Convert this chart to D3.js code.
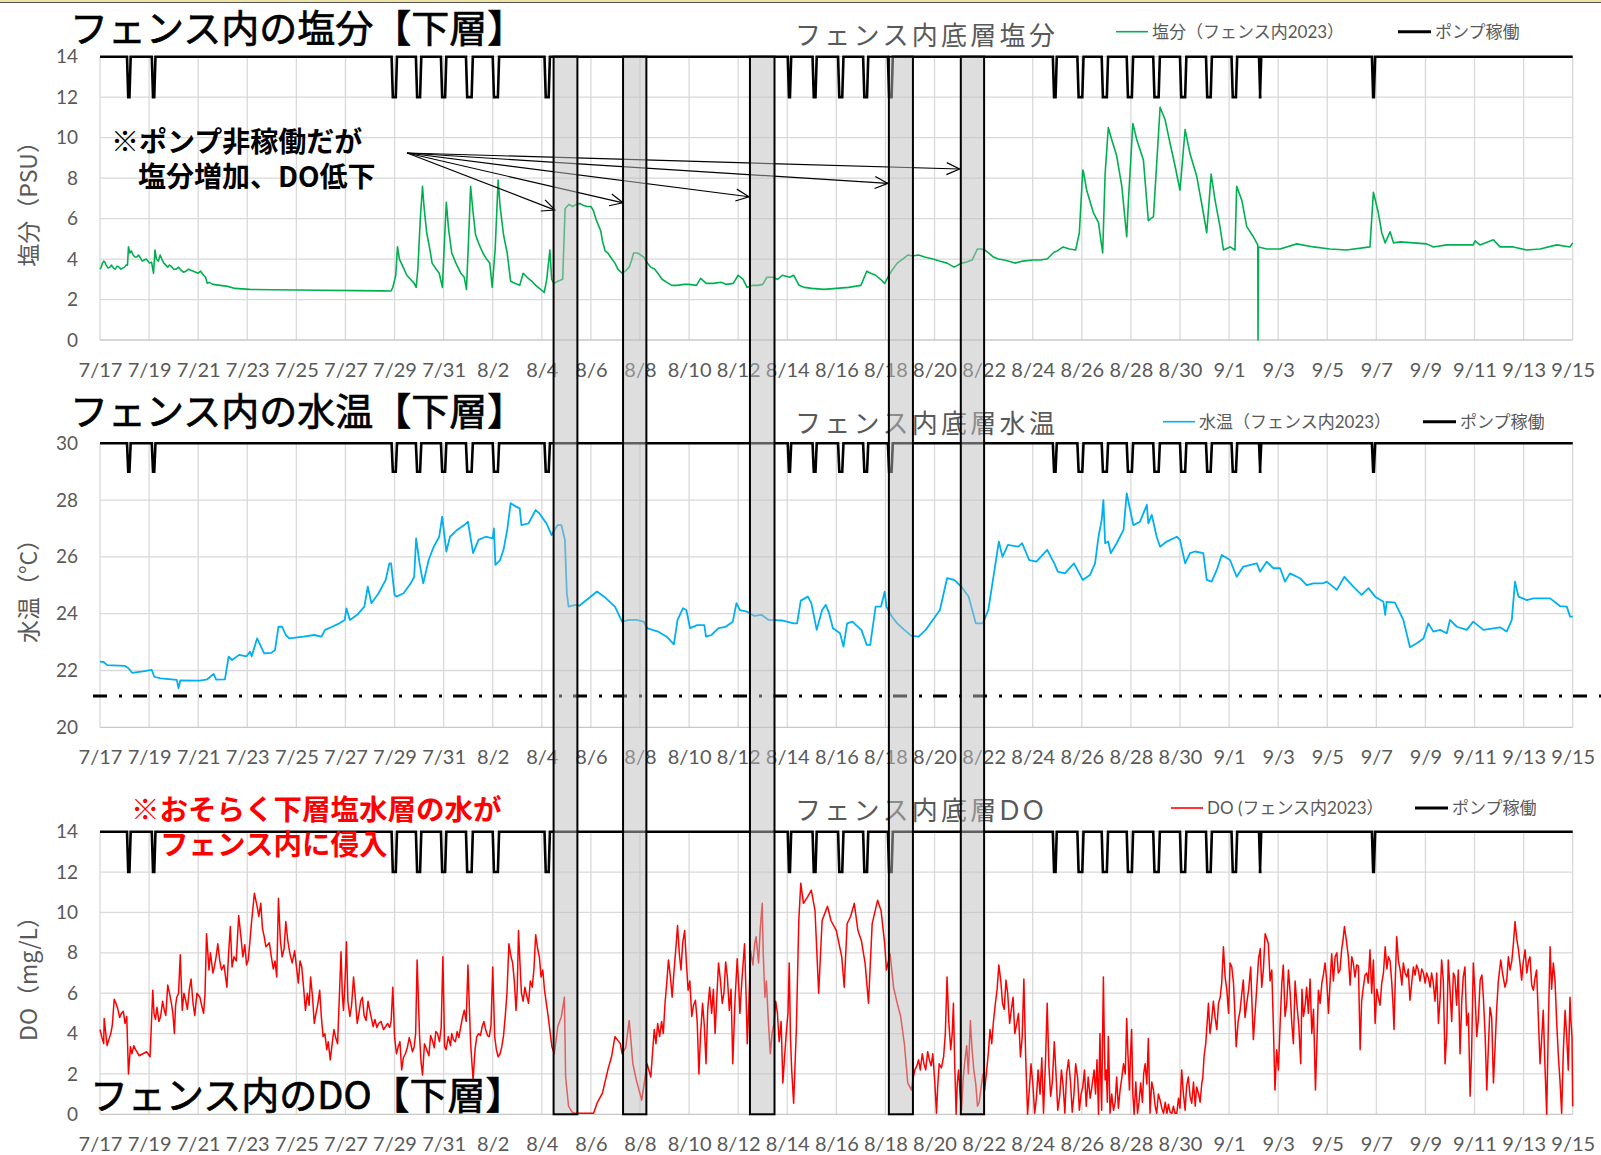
<!DOCTYPE html>
<html>
<head>
<meta charset="utf-8">
<script src="https://cdn.jsdelivr.net/npm/d3@7"></script>
<style>
  body { margin: 0; background: #fff; }
  svg { display: block; }
</style>
</head>
<body>
<svg id="chart" width="1601" height="1155"></svg>
<script>
// ---- data (day offsets from 2023-07-17 00:00) ----
const dateLabels = ['7/17','7/19','7/21','7/23','7/25','7/27','7/29','7/31','8/2','8/4','8/6','8/8','8/10','8/12','8/14','8/16','8/18','8/20','8/22','8/24','8/26','8/28','8/30','9/1','9/3','9/5','9/7','9/9','9/11','9/13','9/15'];
const salTicks = [0, 2, 4, 6, 8, 10, 12, 14];
const tempTicks = [20, 22, 24, 26, 28, 30];
const doTicks = [0, 2, 4, 6, 8, 10, 12, 14];

// salinity (PSU)
const salinity = [[0,3.5],[0.15,3.9],[0.25,3.7],[0.4,3.6],[0.55,3.55],[0.7,3.65],[0.85,3.5],[1.0,3.6],[1.12,3.7],[1.16,4.6],[1.22,4.3],[1.35,4.2],[1.5,4.1],[1.65,4.05],[1.8,3.95],[1.95,3.9],[2.1,3.85],[2.18,3.3],[2.24,4.45],[2.3,4.0],[2.45,4.2],[2.6,3.8],[2.76,3.6],[2.9,3.65],[3.1,3.5],[3.3,3.45],[3.5,3.4],[3.7,3.45],[3.9,3.35],[4.1,3.4],[4.22,3.2],[4.37,2.8],[4.6,2.75],[4.9,2.7],[5.2,2.65],[5.5,2.55],[6.1,2.5],[7.0,2.48],[8.0,2.47],[9.0,2.46],[10.5,2.44],[11.5,2.43],[11.86,2.42],[11.93,2.6],[12.05,3.2],[12.12,4.6],[12.2,4.0],[12.35,3.6],[12.5,3.2],[12.65,3.0],[12.8,2.8],[12.88,2.6],[12.95,3.5],[13.05,6.0],[13.14,7.6],[13.2,6.6],[13.31,5.3],[13.45,4.4],[13.53,3.8],[13.7,3.5],[13.82,3.3],[13.95,2.6],[14.02,4.5],[14.11,6.8],[14.2,5.5],[14.33,4.3],[14.5,3.8],[14.7,3.3],[14.84,3.1],[14.93,2.5],[15.0,4.5],[15.1,7.6],[15.2,6.3],[15.3,5.2],[15.42,4.8],[15.6,4.3],[15.75,4.0],[15.88,3.8],[15.98,2.6],[16.1,4.5],[16.22,7.9],[16.3,6.6],[16.44,5.2],[16.59,4.3],[16.73,2.9],[16.9,2.8],[17.1,2.7],[17.24,3.3],[17.4,3.1],[17.6,2.9],[17.75,2.7],[17.95,2.5],[18.1,2.35],[18.2,3.0],[18.33,4.45],[18.4,3.0],[18.5,2.8],[18.65,2.9],[18.85,3.0],[18.95,6.5],[19.1,6.7],[19.4,6.7],[19.7,6.65],[20.0,6.6],[20.1,6.4],[20.33,5.6],[20.47,4.9],[20.69,4.3],[20.98,3.8],[21.27,3.3],[21.56,3.6],[21.74,4.3],[22.15,4.1],[22.44,3.6],[22.73,3.3],[23.16,2.8],[23.5,2.7],[24.0,2.75],[24.47,3.05],[25.0,2.8],[25.5,2.75],[26.0,3.2],[26.36,2.6],[26.8,2.7],[27.17,3.1],[27.8,3.2],[28.26,3.2],[28.48,2.7],[29.0,2.55],[30.0,2.55],[31.0,2.7],[31.24,3.4],[31.6,3.2],[31.97,2.8],[32.19,3.3],[32.48,3.8],[32.91,4.2],[33.35,4.2],[33.93,4.0],[34.51,3.8],[34.8,3.6],[35.1,3.8],[35.53,3.95],[35.75,4.5],[36.04,4.45],[36.4,4.1],[36.84,3.95],[37.27,3.8],[38.0,3.95],[38.59,4.0],[38.88,4.35],[39.24,4.6],[39.75,4.45],[39.9,5.3],[40.04,8.4],[40.07,8.3],[40.2,7.4],[40.47,6.3],[40.68,5.8],[40.85,4.3],[40.95,8.2],[41.08,10.5],[41.22,9.9],[41.42,9.1],[41.63,7.6],[41.83,5.1],[41.9,6.9],[42.08,10.7],[42.24,9.9],[42.51,8.9],[42.71,5.9],[42.92,6.1],[43.19,11.5],[43.39,10.9],[43.6,9.7],[43.8,8.6],[44.0,7.4],[44.21,10.4],[44.41,9.2],[44.68,8.1],[44.95,6.3],[45.09,5.3],[45.27,8.2],[45.43,6.9],[45.63,5.6],[45.77,4.45],[46.04,4.6],[46.24,4.45],[46.31,7.6],[46.52,6.9],[46.72,5.6],[46.99,5.1],[47.17,4.7],[47.18,0],[47.2,4.6],[47.53,4.5],[48.08,4.5],[48.76,4.75],[49.44,4.6],[50.11,4.5],[50.79,4.45],[51.74,4.6],[51.88,7.3],[52.08,6.3],[52.22,5.3],[52.36,4.8],[52.56,5.35],[52.7,4.8],[52.97,4.85],[53.51,4.8],[54.05,4.75],[54.33,4.6],[54.87,4.7],[55.95,4.7],[56.02,4.9],[56.22,4.7],[56.77,4.95],[57.04,4.6],[57.58,4.6],[58.12,4.45],[58.67,4.5],[59.35,4.7],[59.89,4.6],[60.0,4.8]];
// extra readings picked off the noisier stretches of the salinity trace
const salinityDetail = [[0.05,3.6],[0.1,3.8],[0.2,3.85],[0.33,3.55],[0.47,3.7],[0.62,3.5],[0.78,3.6],[0.92,3.55],[1.06,3.7],[1.28,4.4],[1.42,4.1],[1.57,4.2],[1.72,3.9],[1.88,4.0],[2.02,3.8],[2.38,3.9],[2.52,4.0],[2.68,3.7],[2.83,3.7],[3.0,3.5],[3.2,3.6],[3.4,3.35],[3.6,3.5],[3.8,3.4],[4.0,3.3],[4.3,3.1],[4.45,2.85],[19.25,6.6],[19.55,6.75],[19.85,6.6],[20.2,6.0],[20.4,5.4],[20.58,4.4],[20.8,4.1],[21.1,3.5],[21.4,3.4],[21.65,3.9],[21.9,4.3],[22.3,3.8],[22.6,3.5],[22.9,3.0],[23.3,2.7],[23.8,2.75],[24.3,2.7],[24.7,2.8],[25.3,2.85],[25.8,2.8],[26.2,3.0],[26.6,2.7],[27.0,2.75],[27.4,3.1],[27.6,3.0],[28.1,3.1],[28.7,2.6],[29.5,2.5],[30.5,2.6],[31.4,3.3],[31.8,3.0],[32.3,3.5],[32.7,4.0],[33.1,4.15],[33.6,4.1],[34.2,3.9],[34.95,3.7],[35.3,3.85],[35.9,4.5],[36.2,4.3],[36.6,4.0],[37.0,3.9],[37.6,3.9],[38.3,3.95],[38.75,4.2],[39.0,4.4],[39.5,4.5]];

// water temperature (°C)
const waterTemp = [[0,22.31],[0.15,22.3],[0.29,22.19],[1.02,22.16],[1.16,22.08],[1.31,21.92],[1.75,21.97],[2.11,22.02],[2.21,21.78],[2.47,21.72],[3.13,21.67],[3.2,21.37],[3.27,21.65],[4.07,21.64],[4.37,21.69],[4.63,21.88],[4.73,21.68],[5.09,21.69],[5.24,22.49],[5.38,22.37],[5.67,22.55],[5.97,22.5],[6.11,22.66],[6.18,22.5],[6.4,23.13],[6.69,22.6],[6.98,22.62],[7.13,22.72],[7.27,23.54],[7.42,23.54],[7.57,23.25],[7.71,23.13],[8.29,23.19],[8.73,23.25],[9.02,23.19],[9.17,23.43],[9.46,23.54],[9.75,23.66],[9.97,23.78],[10.04,24.19],[10.18,23.78],[10.48,23.96],[10.77,24.25],[10.91,24.95],[11.06,24.37],[11.35,24.72],[11.64,25.19],[11.79,25.77],[11.86,25.77],[12.0,24.66],[12.08,24.6],[12.37,24.72],[12.66,25.07],[12.8,25.3],[12.88,26.65],[13.02,25.77],[13.17,25.07],[13.39,25.89],[13.6,26.36],[13.82,26.71],[13.94,27.42],[14.11,26.19],[14.26,26.71],[14.55,26.95],[14.84,27.12],[14.99,27.24],[15.2,26.13],[15.42,26.6],[15.71,26.71],[16.0,26.65],[16.05,27.0],[16.11,25.72],[16.3,25.89],[16.44,26.25],[16.59,26.95],[16.73,27.89],[16.95,27.77],[17.1,27.71],[17.17,27.12],[17.46,27.18],[17.75,27.65],[17.9,27.53],[18.19,27.18],[18.4,26.77],[18.51,26.95],[18.65,27.12],[18.8,27.12],[18.94,26.6],[19.02,24.72],[19.09,24.25],[19.38,24.31],[19.53,24.28],[20.25,24.78],[20.54,24.6],[20.98,24.25],[21.27,23.72],[21.56,23.78],[21.85,23.78],[22.15,23.72],[22.29,23.49],[22.73,23.37],[23.09,23.19],[23.38,22.92],[23.53,23.78],[23.75,24.19],[23.89,24.13],[24.04,23.49],[24.33,23.6],[24.62,23.6],[24.69,23.19],[24.91,23.25],[25.2,23.49],[25.49,23.54],[25.78,23.72],[25.93,24.37],[26.07,24.13],[26.36,24.07],[26.66,23.92],[26.95,23.96],[27.24,23.78],[27.82,23.76],[28.26,23.66],[28.4,23.66],[28.55,24.46],[28.84,24.6],[28.98,24.37],[29.2,23.43],[29.42,24.13],[29.57,24.31],[29.71,24.0],[29.86,23.49],[30.15,23.31],[30.29,22.84],[30.44,23.66],[30.66,23.72],[30.8,23.6],[31.02,23.43],[31.24,22.9],[31.38,22.9],[31.6,24.25],[31.82,24.25],[31.97,24.78],[32.04,24.25],[32.26,23.9],[32.48,23.66],[32.77,23.43],[33.06,23.22],[33.35,23.19],[33.64,23.43],[33.93,23.78],[34.22,24.13],[34.51,25.25],[34.8,25.19],[35.1,24.95],[35.39,24.6],[35.68,23.66],[35.97,23.66],[36.19,24.13],[36.4,25.3],[36.62,26.54],[36.77,26.0],[36.99,26.42],[37.42,26.36],[37.57,26.48],[37.86,25.89],[38.15,25.83],[38.59,26.25],[38.88,25.77],[39.02,25.48],[39.31,25.42],[39.68,25.77],[40.04,25.19],[40.33,25.36],[40.54,25.77],[40.68,26.71],[40.81,27.3],[40.88,28.0],[40.95,26.48],[41.08,26.54],[41.18,26.13],[41.42,26.48],[41.7,26.95],[41.83,28.24],[41.97,27.65],[42.1,27.12],[42.37,27.24],[42.65,27.83],[42.71,27.18],[42.85,27.48],[43.05,26.71],[43.19,26.36],[43.46,26.54],[43.87,26.71],[44.0,26.6],[44.21,25.77],[44.41,26.13],[44.61,26.19],[44.95,26.13],[45.09,25.19],[45.29,25.13],[45.5,25.54],[45.7,26.07],[46.04,25.89],[46.31,25.3],[46.58,25.66],[47.13,25.77],[47.26,25.48],[47.53,25.83],[47.81,25.6],[48.08,25.6],[48.28,25.13],[48.48,25.42],[48.89,25.25],[49.16,25.01],[49.44,25.07],[49.84,25.07],[49.98,25.13],[50.39,24.84],[50.7,25.3],[51.06,24.95],[51.4,24.66],[51.68,24.9],[51.95,24.6],[52.29,24.42],[52.36,23.96],[52.42,24.42],[52.76,24.39],[53.1,23.78],[53.37,22.82],[53.65,22.96],[53.92,23.13],[54.12,23.66],[54.32,23.37],[54.6,23.43],[54.87,23.31],[55.0,23.78],[55.28,23.54],[55.68,23.43],[55.95,23.72],[56.36,23.43],[57.04,23.52],[57.31,23.37],[57.52,23.78],[57.65,25.13],[57.79,24.6],[58.13,24.48],[58.4,24.54],[59.08,24.54],[59.48,24.27],[59.76,24.25],[59.89,23.9],[60.0,23.9]];

// dissolved oxygen (mg/L)
const dissolvedO2 = [[0,4.2],[0.15,3.5],[0.17,4.75],[0.29,3.4],[0.44,4.0],[0.58,5.7],[0.73,5.2],[0.87,5.0],[1.02,4.5],[1.09,4.85],[1.16,2.0],[1.24,3.35],[1.45,3.2],[1.75,3.0],[2.04,2.85],[2.15,6.15],[2.26,4.7],[2.47,4.85],[2.62,5.15],[2.76,6.4],[2.91,5.5],[3.03,4.0],[3.13,5.8],[3.27,7.9],[3.35,5.15],[3.49,5.65],[3.71,6.7],[3.86,4.9],[4.07,5.8],[4.22,5.0],[4.34,8.95],[4.44,7.15],[4.66,7.3],[4.8,8.45],[4.95,7.15],[5.17,6.3],[5.31,9.3],[5.46,7.8],[5.65,9.85],[5.82,7.8],[6.04,7.65],[6.18,9.6],[6.29,10.95],[6.4,10.3],[6.55,10.45],[6.69,8.8],[6.98,7.8],[7.2,6.8],[7.27,10.7],[7.42,7.8],[7.57,9.55],[7.74,7.95],[7.93,8.1],[8.08,6.5],[8.22,7.3],[8.37,5.15],[8.58,6.8],[8.73,4.5],[8.95,6.15],[9.09,3.85],[9.24,3.2],[9.38,2.7],[9.53,4.2],[9.68,3.5],[9.82,8.05],[9.92,5.15],[10.04,8.55],[10.18,4.85],[10.33,6.8],[10.48,4.5],[10.69,5.8],[10.84,4.65],[10.99,5.15],[11.13,4.35],[11.35,4.5],[11.64,4.35],[11.86,4.6],[11.93,6.3],[12.0,3.85],[12.15,3.35],[12.29,2.2],[12.44,3.0],[12.66,3.5],[12.8,3.35],[12.92,7.65],[13.02,3.85],[13.14,1.95],[13.31,3.2],[13.53,3.7],[13.75,4.0],[13.97,7.8],[14.04,3.35],[14.19,3.85],[14.4,3.7],[14.7,4.35],[14.84,5.15],[14.99,7.4],[15.1,3.5],[15.2,1.7],[15.35,3.85],[15.57,4.35],[15.71,4.2],[15.86,3.85],[16.0,7.3],[16.08,3.85],[16.22,2.85],[16.37,3.35],[16.51,4.85],[16.66,8.45],[16.81,7.5],[16.95,5.15],[17.05,9.1],[17.17,6.0],[17.31,6.3],[17.46,5.5],[17.61,6.3],[17.75,8.9],[17.9,7.8],[18.04,7.15],[18.11,6.15],[18.26,4.85],[18.41,3.35],[18.51,3.0],[18.65,4.35],[18.8,4.85],[18.92,5.8],[18.97,1.85],[19.09,0.4],[19.24,0.1],[19.38,0.05],[19.8,0.05],[20.11,0.05],[20.25,0.55],[20.47,1.05],[20.69,2.2],[20.84,2.85],[20.98,3.85],[21.2,3.5],[21.27,3.0],[21.42,3.3],[21.56,4.65],[21.71,2.5],[21.85,1.7],[22.07,0.7],[22.29,2.5],[22.44,1.85],[22.58,4.2],[22.8,3.85],[23.02,5.5],[23.16,7.65],[23.31,5.8],[23.53,9.35],[23.67,7.15],[23.82,9.1],[23.96,6.15],[24.11,4.85],[24.26,5.65],[24.4,2.0],[24.55,5.5],[24.69,2.5],[24.84,6.3],[25.06,4.0],[25.2,7.5],[25.35,5.5],[25.49,7.55],[25.64,5.15],[25.78,2.5],[25.96,7.7],[26.07,5.0],[26.26,8.45],[26.37,3.5],[26.51,8.1],[26.73,8.8],[26.83,7.5],[26.98,10.45],[27.09,5.8],[27.31,3.0],[27.46,4.5],[27.6,5.0],[27.82,1.55],[27.97,4.2],[28.08,7.5],[28.18,2.2],[28.26,0.55],[28.37,4.2],[28.47,9.6],[28.55,11.45],[28.66,10.45],[28.84,10.8],[28.98,11.1],[29.13,10.1],[29.28,6.0],[29.42,9.6],[29.64,10.3],[29.78,9.6],[30.0,9.1],[30.22,7.8],[30.32,6.3],[30.44,9.45],[30.58,9.8],[30.73,10.45],[30.88,9.1],[31.02,8.6],[31.17,7.5],[31.31,5.5],[31.46,9.45],[31.68,10.6],[31.82,10.1],[31.97,8.45],[32.04,7.15],[32.19,7.95],[32.33,6.3],[32.48,5.5],[32.62,4.85],[32.77,3.5],[32.91,1.55],[33.06,1.2],[33.2,2.2],[33.35,2.7],[33.57,2.5],[33.79,2.7],[33.93,3.0],[34.08,0.05],[34.19,2.5],[34.37,2.85],[34.51,6.8],[34.66,3.2],[34.77,5.5],[34.88,0],[34.98,2.2],[35.1,0.2],[35.24,2.7],[35.46,4.65],[35.6,2.2],[35.75,0.4],[35.9,1.35],[36.04,1.2],[36.19,3.0],[36.33,3.5],[36.48,5.5],[36.62,7.4],[36.77,5.5],[36.91,6.65],[37.06,4.5],[37.2,5.8],[37.35,4.5],[37.5,2.85],[37.64,6.7],[37.79,0],[37.93,2.5],[38.08,0.05],[38.22,2.2],[38.44,0.05],[38.59,5.5],[38.73,0.9],[38.88,3.6],[39.02,0.2],[39.17,2.2],[39.31,0.05],[39.46,2.7],[39.61,0.1],[39.75,2.5],[39.9,0.2],[40.04,1.35],[40.26,1.85],[40.41,1.35],[40.62,2.7],[40.68,0],[40.74,4.0],[40.81,0.2],[40.88,6.8],[40.95,1.7],[41.08,3.85],[41.15,0.05],[41.29,0.2],[41.42,1.85],[41.56,1.2],[41.7,2.5],[41.83,4.75],[41.94,1.2],[42.03,4.2],[42.13,0],[42.27,0.05],[42.4,1.55],[42.58,2.5],[42.71,3.75],[42.78,0.05],[42.92,1.2],[43.05,0.05],[43.19,0.7],[43.33,0.05],[43.6,0.1],[43.87,0.05],[44.07,2.2],[44.21,0.2],[44.34,1.85],[44.48,0.55],[44.68,1.35],[44.89,1.55],[44.98,2.85],[45.16,5.5],[45.29,4.65],[45.43,4.8],[45.57,5.5],[45.77,8.3],[45.91,6.15],[46.04,7.5],[46.18,6.5],[46.29,3.35],[46.45,5.15],[46.58,6.65],[46.72,5.5],[46.88,7.3],[46.99,3.7],[47.13,6.3],[47.2,7.7],[47.33,6.3],[47.47,8.95],[47.6,8.45],[47.74,7.15],[47.87,1.2],[48.01,2.2],[48.15,6.5],[48.28,4.85],[48.42,7.15],[48.62,3.5],[48.76,5.5],[48.92,2.5],[49.03,4.85],[49.16,6.3],[49.37,4.0],[49.52,1.2],[49.64,6.15],[49.78,6.5],[49.91,7.5],[50.05,5.0],[50.18,7.95],[50.32,7.8],[50.52,7.15],[50.7,9.3],[50.86,7.8],[51.06,7.5],[51.27,7.35],[51.34,3.2],[51.47,6.3],[51.61,7.0],[51.74,8.15],[51.88,7.65],[51.95,4.5],[52.08,5.8],[52.22,6.5],[52.36,8.3],[52.49,7.8],[52.63,6.5],[52.72,4.2],[52.83,8.8],[52.97,7.15],[53.17,7.0],[53.37,5.65],[53.51,7.3],[53.71,7.15],[53.92,7.0],[54.12,6.75],[54.32,6.5],[54.53,4.5],[54.66,7.65],[54.8,2.5],[54.93,7.65],[55.14,7.0],[55.34,7.15],[55.41,3.0],[55.61,7.3],[55.82,0.9],[55.95,7.5],[56.09,3.85],[56.23,6.65],[56.36,5.8],[56.5,1.2],[56.63,5.3],[56.77,1.55],[56.9,5.15],[57.07,7.65],[57.24,6.3],[57.45,7.15],[57.65,9.55],[57.79,8.15],[57.92,6.65],[58.06,8.15],[58.26,7.8],[58.4,6.15],[58.53,7.15],[58.67,2.5],[58.8,5.15],[58.94,0],[59.08,8.3],[59.21,7.5],[59.35,4.5],[59.48,1.7],[59.55,0.05],[59.69,5.15],[59.82,2.2],[59.89,5.8],[59.97,3.85],[60.0,0.4]];
// extra readings from the densest (hourly noise) stretches of the DO trace
const dissolvedO2Detail = [[0.08,3.8],[0.36,3.7],[0.5,4.4],[0.65,5.5],[0.8,4.8],[0.95,5.1],[1.3,3.0],[1.38,3.4],[1.6,2.9],[1.9,3.1],[2.2,5.0],[2.32,5.3],[2.4,4.6],[2.55,5.6],[2.68,4.9],[2.83,6.0],[2.97,5.0],[3.08,5.4],[3.2,6.0],[3.42,6.0],[3.56,5.2],[3.64,6.2],[3.79,5.5],[3.95,6.0],[4.14,5.4],[4.28,6.0],[4.5,8.0],[4.6,7.0],[4.73,7.8],[4.88,7.6],[5.05,7.4],[5.24,8.0],[5.38,7.3],[5.55,7.6],[5.74,8.8],[5.9,8.4],[5.97,7.4],[6.11,8.6],[6.35,10.6],[6.47,9.8],[6.62,9.2],[6.76,8.3],[6.9,8.5],[7.06,7.2],[7.13,7.6],[7.35,8.6],[7.5,8.2],[7.65,8.6],[7.83,7.5],[8.15,7.6],[8.3,6.2],[8.45,6.0],[8.52,5.4],[8.66,5.8],[8.8,5.0],[8.88,5.5],[9.02,4.8],[9.16,4.0],[9.3,3.6],[9.45,3.4],[9.6,3.8],[9.87,6.0],[9.98,6.5],[10.1,5.6],[10.25,5.4],[10.4,5.8],[10.55,5.0],[10.62,5.6],[10.76,4.9],[10.92,5.6],[11.05,4.8],[11.2,4.7],[11.28,4.3],[11.45,4.6],[11.55,4.2],[11.72,4.5],[11.8,4.3],[12.08,3.0],[12.22,3.6],[12.36,2.8],[12.52,3.3],[12.6,3.8],[12.73,3.1],[12.86,4.0],[13.08,2.6],[13.22,3.5],[13.4,2.9],[13.47,3.9],[13.62,3.3],[13.68,4.1],[13.83,3.6],[13.9,4.3],[14.1,3.2],[14.28,3.4],[14.33,4.0],[14.48,3.6],[14.55,4.1],[14.62,3.8],[14.77,4.8],[14.92,4.6],[15.28,3.2],[15.43,4.0],[15.5,3.9],[15.64,4.6],[15.79,3.9],[15.93,4.4],[16.15,3.2],[16.3,3.0],[16.44,3.9],[16.58,6.0],[16.73,7.9],[16.88,6.6],[17.0,6.2],[17.11,7.5],[17.24,5.6],[17.38,5.9],[17.53,6.6],[17.68,7.2],[17.83,8.2],[17.97,6.8],[22.65,3.5],[22.72,4.5],[22.88,4.6],[22.95,4.0],[23.09,6.5],[23.24,6.8],[23.38,7.0],[23.46,8.2],[23.6,8.0],[23.74,8.5],[23.89,7.5],[24.03,6.6],[24.18,5.4],[24.33,4.6],[24.47,4.0],[24.62,4.4],[24.76,5.2],[24.92,5.0],[24.99,6.2],[25.13,5.8],[25.28,6.6],[25.42,6.0],[25.56,6.8],[25.71,6.2],[25.87,5.6],[26.02,6.4],[26.15,6.6],[26.32,6.0],[26.44,5.6],[26.6,7.4],[26.67,8.4],[26.9,9.2],[27.02,8.0],[27.15,6.6],[27.23,4.6],[27.38,4.0],[27.53,5.6],[27.67,3.6],[27.75,4.6],[27.9,3.0],[28.03,5.0],[28.13,3.8],[33.13,1.8],[33.28,2.4],[33.42,2.2],[33.5,3.0],[33.64,2.2],[33.72,3.1],[33.86,2.4],[34.01,1.6],[34.13,1.4],[34.28,2.3],[34.44,4.0],[34.58,4.6],[34.72,4.0],[34.82,2.6],[34.93,1.6],[35.04,1.0],[35.17,1.8],[35.31,3.4],[35.38,2.0],[35.53,3.2],[35.68,1.5],[35.82,0.6],[35.97,2.0],[36.11,2.0],[36.26,4.2],[36.4,4.6],[36.55,6.2],[36.7,6.6],[36.84,5.2],[36.98,6.0],[37.13,5.2],[37.27,4.0],[37.42,5.0],[37.57,3.8],[37.71,3.0],[37.86,1.2],[38.0,1.6],[38.15,0.8],[38.3,1.0],[38.37,2.8],[38.52,2.6],[38.66,2.4],[38.8,1.6],[38.95,2.0],[39.1,0.9],[39.24,1.4],[39.38,2.0],[39.54,1.6],[39.68,1.0],[39.83,1.8],[39.97,1.0],[40.11,2.2],[40.18,0.4],[40.34,0.8],[40.5,2.2],[40.56,1.0],[40.71,2.2],[40.78,1.4],[40.84,3.2],[40.91,4.2],[41.0,2.2],[41.04,0.6],[41.11,2.4],[41.22,1.0],[41.36,0.6],[41.49,0.3],[41.63,1.8],[41.77,2.0],[41.88,3.0],[41.98,2.8],[42.08,1.0],[42.2,1.6],[42.33,0.6],[42.47,0.6],[42.52,2.0],[42.65,1.5],[42.85,1.6],[42.99,0.4],[43.12,1.0],[43.26,0.3],[43.4,0.6],[43.47,0.05],[43.53,0.5],[43.67,0.05],[43.73,0.4],[43.8,0.05],[43.94,0.8],[44.0,0.3],[44.14,1.0],[44.27,1.4],[44.41,0.9],[44.55,1.6],[44.62,0.4],[44.76,1.0],[44.82,0.6],[44.93,1.8],[45.05,3.5],[45.1,4.4],[45.22,4.0],[45.36,5.6],[45.5,4.2],[45.64,5.8],[45.7,6.5],[45.84,6.8],[45.98,5.0],[46.11,7.3],[46.23,5.2],[46.37,4.6],[46.52,6.0],[46.65,4.8],[46.8,6.2],[46.93,5.6],[47.06,5.0],[47.27,8.2],[47.4,7.2],[47.54,8.7],[47.67,6.6],[47.8,4.6],[47.94,3.2],[48.08,4.5],[48.21,7.4],[48.35,5.5],[48.49,6.0],[48.55,4.6],[48.69,6.6],[48.84,4.4],[48.97,6.2],[49.1,5.4],[49.23,5.0],[49.3,6.7],[49.44,5.2],[49.58,3.6],[49.71,5.5],[49.84,6.9],[49.98,6.6],[50.11,6.4],[50.25,6.6],[50.39,8.0],[50.45,7.0],[50.59,8.2],[50.64,8.6],[50.78,8.6],[50.93,6.4],[51.0,7.8],[51.13,6.8],[51.2,7.4],[51.4,5.6],[51.54,6.9],[51.67,6.5],[51.81,6.0],[52.02,6.2],[52.15,5.4],[52.29,7.0],[52.43,7.2],[52.56,7.6],[52.68,5.4],[52.77,6.6],[52.9,7.6],[53.04,6.4],[53.1,7.5],[53.24,6.8],[53.3,7.2],[53.44,6.5],[53.58,6.9],[53.64,7.4],[53.78,6.6],[53.85,7.2],[53.99,6.5],[54.05,7.0],[54.19,6.3],[54.25,7.0],[54.39,5.6],[54.46,7.0],[54.6,5.8],[54.73,6.6],[54.87,4.0],[55.0,6.2],[55.07,4.6],[55.2,6.8],[55.27,5.4],[55.48,5.6],[55.54,6.8],[55.68,4.4],[55.75,5.0],[55.88,3.0],[56.02,6.0],[56.16,4.8],[56.3,6.9],[56.43,4.0],[56.56,3.2],[56.7,4.8],[56.84,3.4],[56.97,6.6],[57.14,7.0],[57.31,6.6],[57.38,7.8],[57.52,7.6],[57.58,8.4],[57.72,8.7],[57.86,7.4],[57.99,7.6],[58.13,7.0],[58.2,7.6],[58.33,6.4],[58.47,6.8],[58.6,4.8],[58.73,3.6],[58.87,2.4],[59.01,4.6],[59.14,6.2],[59.28,6.6],[59.42,2.8],[59.62,3.2],[59.75,4.0],[59.93,4.6]];

// pump stopped intervals [start, end] in days
const pumpOff = [[1.1,1.25],[2.11,2.26],[11.88,12.1],[12.87,13.09],[13.89,14.11],[14.91,15.19],[16.0,16.26],[18.11,18.33],[28.02,28.16],[29.03,29.2],[30.07,30.29],[31.09,31.3],[32.1,32.3],[38.82,38.98],[39.82,40.07],[40.81,41.07],[41.83,42.09],[42.91,43.18],[44.0,44.26],[45.06,45.3],[46.1,46.33],[47.22,47.31],[51.82,51.95]];

// shaded periods (pump off but salinity up / DO down)
const bands = [[18.48,19.45],[21.31,22.26],[26.48,27.48],[32.14,33.12],[35.07,36.02]];

// arrows: from annotation to each period, [day, salinity]
const arrowFrom = [12.51, 9.24];
const arrowTo = [[18.54,6.42],[21.31,6.78],[26.44,7.08],[32.1,7.74],[35.02,8.45]];

const refTemp = 21.1;

// ---- layout ----
const W = 1601, H = 1155;
const JP = "'Noto Sans CJK JP', sans-serif";
const NUM = "Lato, 'Noto Sans CJK JP', sans-serif";
const GRAY = '#595959';
const origin = new Date(2023, 6, 17);
const toDate = d => new Date(origin.getTime() + d * 864e5);
const tickDates = dateLabels.map(s => { const [m, d] = s.split('/').map(Number); return new Date(2023, m - 1, d); });
const merge = (a, b) => a.concat(b).sort((p, q) => p[0] - q[0]);

const x = d3.scaleTime().domain([toDate(0), toDate(60)]).range([100, 1572.7]);

const panels = [
  { top: 56.7, bottom: 340, domain: [0, 14], ticks: salTicks, low: 12, data: merge(salinity, salinityDetail), color: '#00b050', width: 1.6,
    yTitle: '塩分（PSU）', title: 'フェンス内底層塩分', legend: '塩分（フェンス内2023）', lg: [1116, 31.7, 1398] },
  { top: 443.3, bottom: 727.3, domain: [20, 30], ticks: tempTicks, low: 29, data: waterTemp, color: '#00b0f0', width: 1.8,
    yTitle: '水温（°C）', title: 'フェンス内底層水温', legend: '水温（フェンス内2023）', lg: [1163, 421.7, 1423] },
  { top: 831.7, bottom: 1114.3, domain: [0, 14], ticks: doTicks, low: 12, data: merge(dissolvedO2, dissolvedO2Detail), color: '#ff0000', width: 1.5,
    yTitle: 'DO（mg/L）', title: 'フェンス内底層DO', legend: 'DO (フェンス内2023）', lg: [1171, 808, 1415] }
];
const titleY = [45, 433, 820];

const svg = d3.select('#chart');
svg.append('rect').attr('width', W).attr('height', H).attr('fill', '#fff');
svg.append('rect').attr('width', W).attr('height', 2).attr('fill', '#ece3a4');
svg.append('line').attr('x1', 0).attr('x2', W).attr('y1', 2.5).attr('y2', 2.5).attr('stroke', '#555').attr('stroke-width', 1);

const defs = svg.append('defs');
defs.append('marker').attr('id', 'head').attr('markerUnits', 'userSpaceOnUse')
  .attr('markerWidth', 16).attr('markerHeight', 14).attr('refX', 14).attr('refY', 7).attr('orient', 'auto')
  .append('path').attr('d', 'M1,1 L14,7 L1,13').attr('fill', 'none').attr('stroke', '#000').attr('stroke-width', 1.2);

const yScales = [];

panels.forEach((p, i) => {
  const y = d3.scaleLinear().domain(p.domain).range([p.bottom, p.top]);
  yScales.push(y);
  const g = svg.append('g');

  // grid
  g.append('g').selectAll('line').data(tickDates).join('line')
    .attr('x1', d => x(d)).attr('x2', d => x(d)).attr('y1', p.top).attr('y2', p.bottom)
    .attr('stroke', '#d9d9d9').attr('stroke-width', 1.3);
  g.append('g').selectAll('line').data(p.ticks).join('line')
    .attr('x1', x.range()[0]).attr('x2', x.range()[1]).attr('y1', d => y(d)).attr('y2', d => y(d))
    .attr('stroke', (d, k) => k === 0 ? '#c8c8c8' : '#d9d9d9').attr('stroke-width', 1.3);

  // y axis labels
  g.append('g').attr('transform', `translate(${x.range()[0]},0)`)
    .call(d3.axisLeft(y).tickValues(p.ticks).tickSize(0).tickPadding(22))
    .call(a => a.select('.domain').remove())
    .attr('font-family', NUM).attr('font-size', 19)
    .selectAll('text').attr('fill', GRAY);

  // x axis labels
  g.append('g').attr('transform', `translate(0,${p.bottom})`)
    .call(d3.axisBottom(x).tickValues(tickDates).tickFormat((d, k) => dateLabels[k]).tickSize(0))
    .call(a => a.select('.domain').remove())
    .attr('font-family', NUM).attr('font-size', 20)
    .selectAll('text').attr('fill', GRAY).attr('y', 37).attr('dy', 0);

  // y axis title
  g.append('text').attr('transform', `translate(37,${(p.top + p.bottom) / 2}) rotate(-90)`)
    .attr('text-anchor', 'middle').attr('font-family', JP).attr('font-size', 23).attr('fill', GRAY)
    .text(p.yTitle);

  // series
  g.append('path').datum(p.data.filter(d => d[0] <= 60))
    .attr('d', d3.line().x(d => x(toDate(d[0]))).y(d => y(d[1])))
    .attr('fill', 'none').attr('stroke', p.color).attr('stroke-width', p.width).attr('stroke-linejoin', 'round');

  // pump operation line
  const pumpPts = [[0, p.domain[1]]];
  pumpOff.forEach(([s, e]) => {
    pumpPts.push([s, p.domain[1]], [s + 0.05, p.low], [e - 0.05, p.low], [e, p.domain[1]]);
  });
  pumpPts.push([60, p.domain[1]]);
  g.append('path').datum(pumpPts)
    .attr('d', d3.line().x(d => x(toDate(d[0]))).y(d => y(d[1])))
    .attr('fill', 'none').attr('stroke', '#000').attr('stroke-width', 2.6).attr('stroke-linejoin', 'miter');

  // chart title
  g.append('text').attr('x', 795).attr('y', titleY[i]).attr('font-family', NUM).attr('font-size', 26)
    .attr('letter-spacing', 3.3).attr('fill', GRAY).text(p.title);

  // legend
  const [lx, ly, px] = p.lg;
  g.append('line').attr('x1', lx).attr('x2', lx + 32).attr('y1', ly).attr('y2', ly)
    .attr('stroke', p.color).attr('stroke-width', 1.6);
  g.append('text').attr('x', lx + 36).attr('y', ly + 6).attr('font-family', NUM).attr('font-size', 17)
    .attr('fill', GRAY).text(p.legend);
  g.append('line').attr('x1', px).attr('x2', px + 33).attr('y1', ly).attr('y2', ly)
    .attr('stroke', '#000').attr('stroke-width', 3);
  g.append('text').attr('x', px + 37).attr('y', ly + 6).attr('font-family', JP).attr('font-size', 17)
    .attr('fill', GRAY).text('ポンプ稼働');
});

// reference temperature line (dash-dot)
svg.append('line').attr('x1', x.range()[0] - 7).attr('x2', W)
  .attr('y1', yScales[1](refTemp)).attr('y2', yScales[1](refTemp))
  .attr('stroke', '#000').attr('stroke-width', 3).attr('stroke-dasharray', '14,12,3,11');

// big titles
const bigTitles = [['フェンス内の塩分【下層】', 70, 42], ['フェンス内の水温【下層】', 70, 425], ['フェンス内のDO【下層】', 90, 1109]];
svg.append('g').selectAll('text').data(bigTitles).join('text')
  .attr('x', d => d[1]).attr('y', d => d[2]).attr('font-family', JP).attr('font-size', 38).attr('font-weight', 400)
  .attr('fill', '#000').attr('stroke', '#000').attr('stroke-width', 0.7).text(d => d[0]);

// annotations
const note1 = [['※ポンプ非稼働だが', 111, 152], ['塩分増加、DO低下', 138, 187]];
svg.append('g').selectAll('text').data(note1).join('text')
  .attr('x', d => d[1]).attr('y', d => d[2]).attr('font-family', JP).attr('font-size', 28).attr('font-weight', 700)
  .attr('fill', '#000').text(d => d[0]);
const note2 = [['※おそらく下層塩水層の水が', 131, 820], ['フェンス内に侵入', 160, 855]];
svg.append('g').selectAll('text').data(note2).join('text')
  .attr('x', d => d[1]).attr('y', d => d[2]).attr('font-family', JP).attr('font-size', 28.5).attr('font-weight', 700)
  .attr('fill', '#ff0000').text(d => d[0]);

// arrows
svg.append('g').selectAll('line').data(arrowTo).join('line')
  .attr('x1', x(toDate(arrowFrom[0]))).attr('y1', yScales[0](arrowFrom[1]))
  .attr('x2', d => x(toDate(d[0]))).attr('y2', d => yScales[0](d[1]))
  .attr('stroke', '#000').attr('stroke-width', 1.2).attr('marker-end', 'url(#head)');

// shaded periods across all panels
svg.append('g').selectAll('rect').data(bands).join('rect')
  .attr('x', d => x(toDate(d[0]))).attr('width', d => x(toDate(d[1])) - x(toDate(d[0])))
  .attr('y', panels[0].top).attr('height', panels[2].bottom - panels[0].top)
  .attr('fill', 'rgba(190,190,190,0.5)').attr('stroke', '#000').attr('stroke-width', 2);
</script>
</body>
</html>
